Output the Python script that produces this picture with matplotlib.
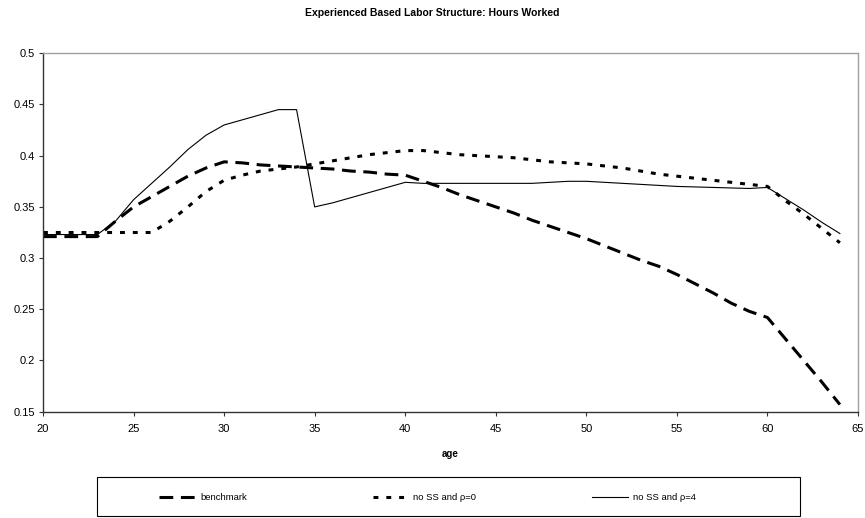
import matplotlib
matplotlib.use("Agg")
import matplotlib.pyplot as plt
from matplotlib.lines import Line2D
from matplotlib.patches import Rectangle

plt.rcParams['font.family'] = ['Liberation Sans', 'DejaVu Sans']

# ages 20..64
age = list(range(20, 65))

benchmark = [0.321, 0.321, 0.321, 0.321, 0.336, 0.350, 0.360, 0.370, 0.380, 0.388,
             0.394, 0.393, 0.391, 0.390, 0.389, 0.388, 0.387, 0.385, 0.384, 0.382,
             0.381, 0.375, 0.369, 0.362, 0.356, 0.350, 0.344, 0.337, 0.331, 0.325,
             0.319, 0.312, 0.305, 0.298, 0.292, 0.284, 0.275, 0.266, 0.256, 0.248,
             0.242, 0.221, 0.200, 0.179, 0.157]

no_ss_rho0 = [0.325, 0.325, 0.325, 0.325, 0.325, 0.325, 0.325, 0.336, 0.350, 0.365,
              0.376, 0.381, 0.385, 0.387, 0.389, 0.392, 0.395, 0.398, 0.401, 0.403,
              0.405, 0.405, 0.403, 0.401, 0.400, 0.399, 0.398, 0.396, 0.394, 0.393,
              0.392, 0.390, 0.388, 0.385, 0.382, 0.380, 0.378, 0.376, 0.374, 0.372,
              0.370, 0.356, 0.343, 0.329, 0.315]

no_ss_rho4 = [0.323, 0.323, 0.323, 0.323, 0.336, 0.357, 0.373, 0.389, 0.406, 0.420,
              0.430, 0.435, 0.440, 0.445, 0.445, 0.350, 0.354, 0.359, 0.364, 0.369,
              0.374, 0.373, 0.373, 0.373, 0.373, 0.373, 0.373, 0.373, 0.374, 0.375,
              0.375, 0.374, 0.373, 0.372, 0.371, 0.370, 0.3695, 0.369, 0.3685, 0.368,
              0.369, 0.358, 0.347, 0.335, 0.324]

labels = ['benchmark', 'no SS and \u03c1=0', 'no SS and \u03c1=4']

fig = plt.figure(figsize=(8.65, 5.18), dpi=100)
ax = fig.add_axes([43/865, 1-411.7/518, 815/865, 358.4/518])

dash_b = dict(color='black', lw=2.2, linestyle=(0, (4.5, 2.5)), dash_capstyle='butt')
dash_d = dict(color='black', lw=2.2, linestyle=(0, (1.6, 2.6)), dash_capstyle='butt')
solid = dict(color='black', lw=0.8)

ax.plot(age, benchmark, **dash_b)
ax.plot(age, no_ss_rho0, **dash_d)
ax.plot(age, no_ss_rho4, **solid)

ax.set_xlim(20, 65)
ax.set_ylim(0.15, 0.5)
ax.set_xticks(range(20, 66, 5))
ax.set_yticks([0.15, 0.2, 0.25, 0.3, 0.35, 0.4, 0.45, 0.5])
ax.set_yticklabels(['0.15', '0.2', '0.25', '0.3', '0.35', '0.4', '0.45', '0.5'])
ax.tick_params(labelsize=8, length=3, width=0.8, color='#333333', pad=3)
ax.tick_params(axis='x', pad=6)
for s in ['left', 'bottom']:
    ax.spines[s].set_color('#333333')
    ax.spines[s].set_linewidth(1.0)
for s in ['top', 'right']:
    ax.spines[s].set_color('#a0a0a0')
    ax.spines[s].set_linewidth(1.0)

ax.set_xlabel('age', fontsize=7, fontweight='bold', labelpad=11)
fig.text(0.5, 1-13/518, 'Experienced Based Labor Structure: Hours Worked',
         ha='center', va='center', fontsize=7.5, fontweight='bold')

# legend box below the plot
fig.patches.append(Rectangle((97/865, 1-516/518), 703/865, 39/518,
                             transform=fig.transFigure, fill=False,
                             edgecolor='black', lw=0.8))
ly = 1-497/518
entries = [(159, 196, 200, dash_b), (373, 408, 413, dash_d), (592, 628, 633, solid)]
for (x0, x1, xt, st), lab in zip(entries, labels):
    fig.lines.append(Line2D([x0/865, x1/865], [ly, ly], transform=fig.transFigure, **st))
    fig.text(xt/865, ly, lab, ha='left', va='center', fontsize=6.8)

fig.savefig('out.png', dpi=100)
